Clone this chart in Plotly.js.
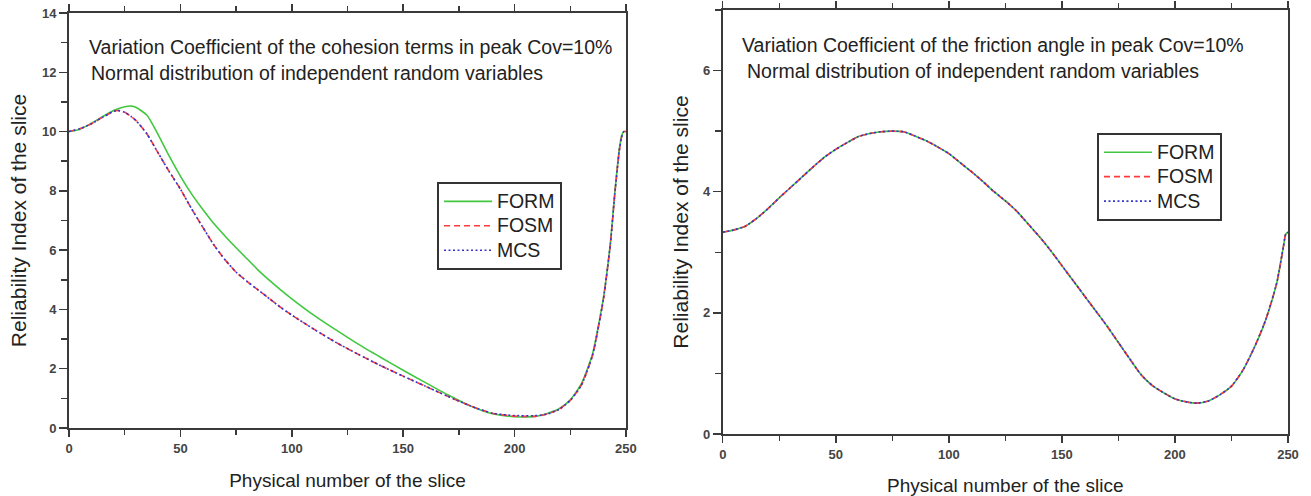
<!DOCTYPE html>
<html>
<head>
<meta charset="utf-8">
<script src="https://cdn.plot.ly/plotly-3.0.1.min.js"></script>
<style>html,body{margin:0;padding:0;background:#fff;}#chart{width:1311px;height:496px;}</style>
</head>
<body>
<div id="chart"></div>
<script>
// Left panel: cohesion Cov=10%
const slicesL = [0,5,10,15,20,22,25,28,30,35,40,45,50,55,60,65,70,75,80,85,90,95,100,110,120,130,140,150,160,170,180,190,200,210,215,220,225,230,235,238,240,243,245,247,248,249,250];
const formL   = [10.0,10.08,10.28,10.5,10.71,10.77,10.84,10.86,10.82,10.55,9.9,9.17,8.5,7.9,7.38,6.9,6.48,6.08,5.7,5.32,4.98,4.66,4.36,3.8,3.3,2.82,2.38,1.95,1.53,1.12,0.75,0.48,0.38,0.40,0.5,0.65,0.95,1.5,2.5,3.6,4.45,6.25,7.95,9.4,9.85,10.0,10.0];
const fosmL   = [10.0,10.1,10.26,10.48,10.68,10.71,10.65,10.5,10.38,9.92,9.28,8.65,8.06,7.4,6.78,6.18,5.68,5.26,4.94,4.65,4.36,4.07,3.81,3.33,2.88,2.48,2.1,1.75,1.41,1.07,0.75,0.5,0.4,0.40,0.48,0.63,0.93,1.45,2.45,3.55,4.4,6.2,7.9,9.35,9.8,10.0,10.0];
const mcsL    = [10.0,10.1,10.26,10.48,10.68,10.71,10.65,10.5,10.38,9.92,9.28,8.65,8.06,7.4,6.78,6.18,5.68,5.26,4.94,4.65,4.36,4.07,3.81,3.33,2.88,2.48,2.1,1.75,1.41,1.07,0.75,0.5,0.42,0.42,0.48,0.63,0.93,1.45,2.45,3.55,4.4,6.2,7.9,9.35,9.8,10.0,10.0];

// Right panel: friction angle Cov=10%
const slicesR = [0,5,10,15,20,25,30,35,40,45,50,55,60,65,70,75,80,85,90,95,100,105,110,115,120,125,130,135,140,145,150,155,160,165,170,175,180,185,190,195,200,205,210,215,220,225,230,235,240,245,248,249,250];
const formR   = [3.33,3.37,3.43,3.56,3.72,3.9,4.07,4.24,4.41,4.57,4.7,4.81,4.91,4.96,4.99,5.0,4.99,4.92,4.84,4.74,4.63,4.48,4.33,4.17,4.0,3.85,3.68,3.47,3.26,3.03,2.78,2.53,2.28,2.03,1.78,1.51,1.24,0.98,0.8,0.68,0.58,0.53,0.51,0.55,0.65,0.79,1.05,1.42,1.87,2.49,3.1,3.3,3.33];
const fosmR   = formR.slice();
const mcsR    = formR.slice();

const seriesNames = ['FORM','FOSM','MCS'];
const colors = ['#40c840','#ff3a3a','#3535cc'];
const dashes = ['solid','6px,4px','2px,2.5px'];

const xTicks = [0,50,100,150,200,250];
const yTicksL = [0,2,4,6,8,10,12,14];
const yTicksR = [0,2,4,6];

const textL1 = 'Variation Coefficient of the cohesion terms in peak Cov=10%';
const textR1 = 'Variation Coefficient of the friction angle in peak Cov=10%';
const text2 = 'Normal distribution of independent random variables';
const xTitle = 'Physical number of the slice';
const yTitle = 'Reliability Index of the slice';

const legName = n => '<span style="font-size:19.5px">' + n + '</span>';
const dataL = [formL, fosmL, mcsL];
const dataR = [formR, fosmR, mcsR];
const traces = [];
seriesNames.forEach((n,i)=>{
  traces.push({x:slicesL,y:dataL[i],name:legName(n),type:'scatter',mode:'lines',xaxis:'x',yaxis:'y',legend:'legend',
    line:{color:colors[i],width:1.6,dash:dashes[i],shape:'spline',smoothing:0.6}});
});
seriesNames.forEach((n,i)=>{
  traces.push({x:slicesR,y:dataR[i],name:legName(n),type:'scatter',mode:'lines',xaxis:'x2',yaxis:'y2',legend:'legend2',
    line:{color:colors[i],width:1.6,dash:dashes[i],shape:'spline',smoothing:0.6}});
});

const axisCol = '#3a3a3a';
const tickFont = {family:'Arial, Liberation Sans, sans-serif',size:13,color:'#444',weight:'bold'};
const xTitleFont = {family:'Arial, Liberation Sans, sans-serif',size:19,color:'#222'};
const yTitleFont = {family:'Arial, Liberation Sans, sans-serif',size:21,color:'#222'};
function xa(domain, anchor){
  return {domain:domain,anchor:anchor,range:[0,250],tickvals:xTicks,ticktext:xTicks.map(String),
    ticks:'outside',ticklen:7,tickwidth:1.5,tickcolor:axisCol,showline:true,linecolor:axisCol,linewidth:2,mirror:'allticks',
    showgrid:false,zeroline:false,tickfont:tickFont,
    minor:{dtick:25,tick0:0,ticks:'outside',ticklen:5,tickwidth:1.5,tickcolor:axisCol,showgrid:false},
    title:{text:xTitle,font:xTitleFont,standoff:19}};
}
function ya(domain, anchor, rng, tv, so){
  return {domain:domain,anchor:anchor,range:rng,tickvals:tv,ticktext:tv.map(String),
    ticks:'outside',ticklen:8,tickwidth:1.5,tickcolor:axisCol,showline:true,linecolor:axisCol,linewidth:2,mirror:true,
    showgrid:false,zeroline:false,tickfont:tickFont,
    minor:{dtick:1,tick0:0,ticks:'outside',ticklen:6,tickwidth:1.5,tickcolor:axisCol,showgrid:false},
    title:{text:yTitle,font:yTitleFont,standoff:so}};
}
const annFont = {family:'Arial, Liberation Sans, sans-serif',size:19.5,color:'#222'};
const legFont = {family:'Arial, Liberation Sans, sans-serif',size:16.5,color:'#222'};
const layout = {
  width:1311,height:496,paper_bgcolor:'#fff',plot_bgcolor:'#fff',
  margin:{l:69,r:23,t:10,b:62},
  showlegend:true,
  xaxis:xa([0,0.4569],'y'),
  yaxis:ya([0.01415,0.9929],'x',[0,14],yTicksL,10),
  xaxis2:xa([0.5363,1],'y2'),
  yaxis2:ya([0,1],'x2',[0,7],yTicksR,9),
  legend:{x:0.3019,y:0.594,xref:'paper',yref:'paper',xanchor:'left',yanchor:'top',bgcolor:'#fff',bordercolor:'#333',borderwidth:2,font:legFont,tracegroupgap:0,itemwidth:48},
  legend2:{x:0.8433,y:0.71,xref:'paper',yref:'paper',xanchor:'left',yanchor:'top',bgcolor:'#fff',bordercolor:'#333',borderwidth:2,font:legFont,tracegroupgap:0,itemwidth:48},
  annotations:[
    {xref:'x domain',yref:'y domain',x:0.0324,y:0.918,xanchor:'left',yanchor:'middle',text:textL1,showarrow:false,font:annFont},
    {xref:'x domain',yref:'y domain',x:0.036,y:0.855,xanchor:'left',yanchor:'middle',text:text2,showarrow:false,font:annFont},
    {xref:'x2 domain',yref:'y2 domain',x:0.0305,y:0.917,xanchor:'left',yanchor:'middle',text:textR1,showarrow:false,font:annFont},
    {xref:'x2 domain',yref:'y2 domain',x:0.0395,y:0.856,xanchor:'left',yanchor:'middle',text:text2,showarrow:false,font:annFont}
  ]
};
Plotly.newPlot('chart',traces,layout,{displayModeBar:false,staticPlot:true});
</script>
</body>
</html>
